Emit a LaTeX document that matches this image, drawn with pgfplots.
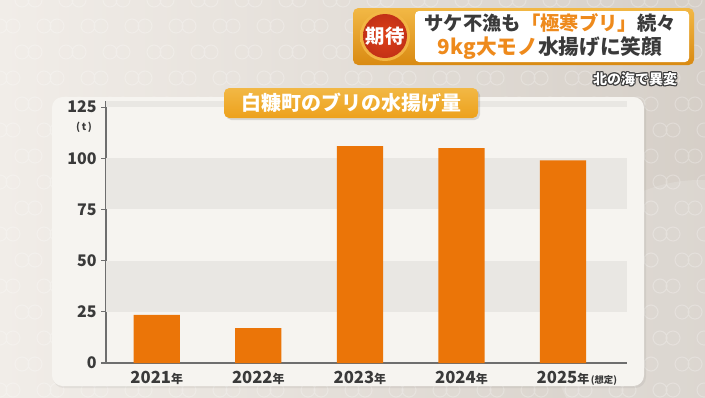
\documentclass[border=0pt]{standalone}
\usepackage{pgfplots}
\pgfplotsset{compat=1.18}
\usepackage{fontspec}
\setmainfont{Noto Sans CJK JP}
\definecolor{bg}{HTML}{E8E1D9}
\definecolor{pat}{HTML}{EEE8E1}
\definecolor{panel}{HTML}{F6F4F0}
\definecolor{band}{HTML}{E9E7E3}
\definecolor{barorange}{HTML}{EB7508}
\definecolor{textdark}{HTML}{3A3A3A}
\definecolor{axisgray}{HTML}{6E6E6E}
\definecolor{titlebox}{HTML}{EDA11C}
\definecolor{hdrtop}{HTML}{F2B845}
\definecolor{hdrbot}{HTML}{D98A12}
\definecolor{redc}{HTML}{D8361A}
\definecolor{redo}{HTML}{F07A2A}
\definecolor{orangetxt}{HTML}{EE8A1C}
\begin{document}
\begin{tikzpicture}
\begin{scope}[x=0.75pt,y=-0.75pt]
\useasboundingbox (0,0) rectangle (705,397);
\shade[left color=bg!60!white, right color=bg!92!black] (0,0) rectangle (705,397);
\foreach \yy [count=\i] in {0,26,...,400}{
  \foreach \xx in {0,44,...,720}{
    \pgfmathsetmacro{\off}{mod(\i,2)*22}
    \draw[white, opacity=0.25, line width=0.8pt] (\xx+\off,\yy) circle (7) (\xx+\off+13,\yy) circle (7);
  }
}
\fill[white, opacity=0.15] (700,330) circle (150);
% panel
\fill[black, opacity=0.05, rounded corners=8] (53,99) rectangle (646,388);
\fill[panel, rounded corners=8] (52,97) rectangle (644,386);
% header
\shade[top color=hdrtop, bottom color=hdrbot, rounded corners=4] (353,8) rectangle (694,65);
\fill[white, rounded corners=3] (415,11) rectangle (689,62);
\shade[inner color=redo, outer color=hdrtop] (385,36) circle (25);
\shade[inner color=redc!85!orange, outer color=redc!90!black] (385,36) circle (22);
\node[text=white, font=\bfseries\fontsize{14.5}{14.5}\selectfont] at (385,36) {期待};
\node[text=textdark, font=\bfseries\fontsize{14.5}{14.5}\selectfont] at (550,23) {サケ不漁も\textcolor{orangetxt}{「極寒ブリ」}続々};
\node[text=textdark, font=\bfseries\fontsize{15.5}{15.5}\selectfont] at (550,48) {\textcolor{orangetxt}{9kg大モノ}水揚げに笑顔};
\foreach \dx/\dy in {-1/0,1/0,0/-1,0/1,-0.8/-0.8,0.8/0.8,-0.8/0.8,0.8/-0.8}{
  \node[text=textdark, font=\bfseries\fontsize{10.5}{10.5}\selectfont] at (635+\dx,79+\dy) {北の海で異変};
}
\node[text=white, font=\bfseries\fontsize{10.5}{10.5}\selectfont] at (635,79) {北の海で異変};
% unit
\node[text=textdark, font=\bfseries\fontsize{7.5}{7.5}\selectfont] at (84,127) {(\,t\,)};
\end{scope}
\begin{axis}[
  at={(79.5pt,-272.25pt)}, anchor=south west,
  scale only axis, width=390.75pt, height=196.5pt,
  xmin=-0.5, xmax=4.63, ymin=0, ymax=128,
  axis x line=bottom, axis y line=left,
  axis line style={draw=axisgray, line width=1.1pt, -},
  ytick={0,25,50,75,100,125},
  xtick={0,1,2,3,4},
  xticklabels={2021{\fontsize{9}{9}\selectfont 年},2022{\fontsize{9}{9}\selectfont 年},2023{\fontsize{9}{9}\selectfont 年},2024{\fontsize{9}{9}\selectfont 年},2025{\fontsize{9}{9}\selectfont 年}\rlap{\fontsize{7}{7}\selectfont\,(想定)}},
  x tick style={draw=none},
  y tick style={draw=axisgray, line width=0.8pt},
  tick align=outside, major tick length=3.5pt,
  /pgf/number format/assume math mode=true,
  ticklabel style={font=\bfseries\fontsize{12}{12}\selectfont, text=textdark},
  xticklabel style={font=\bfseries\fontsize{12.5}{12.5}\selectfont, yshift=1pt},
  clip=false,
]
\fill[band] (axis cs:-0.5,75) rectangle (axis cs:4.63,100);
\fill[band] (axis cs:-0.5,25) rectangle (axis cs:4.63,50);
\fill[band] (axis cs:-0.5,125) rectangle (axis cs:4.63,128);
\addplot[ybar, fill=barorange, draw=none, bar width=0.455] coordinates {(0,23.5) (1,17) (2,106) (3,105) (4,99)};
\end{axis}
\begin{scope}[x=0.75pt,y=-0.75pt]
% title box
\fill[black, opacity=0.12, rounded corners=4] (226,90) rectangle (480,120);
\shade[top color=hdrtop, bottom color=titlebox, rounded corners=4] (224,88) rectangle (478,118);
\node[text=white, font=\bfseries\fontsize{15}{15}\selectfont] at (351,103) {白糠町のブリの水揚げ量};
\end{scope}
\end{tikzpicture}
\end{document}
